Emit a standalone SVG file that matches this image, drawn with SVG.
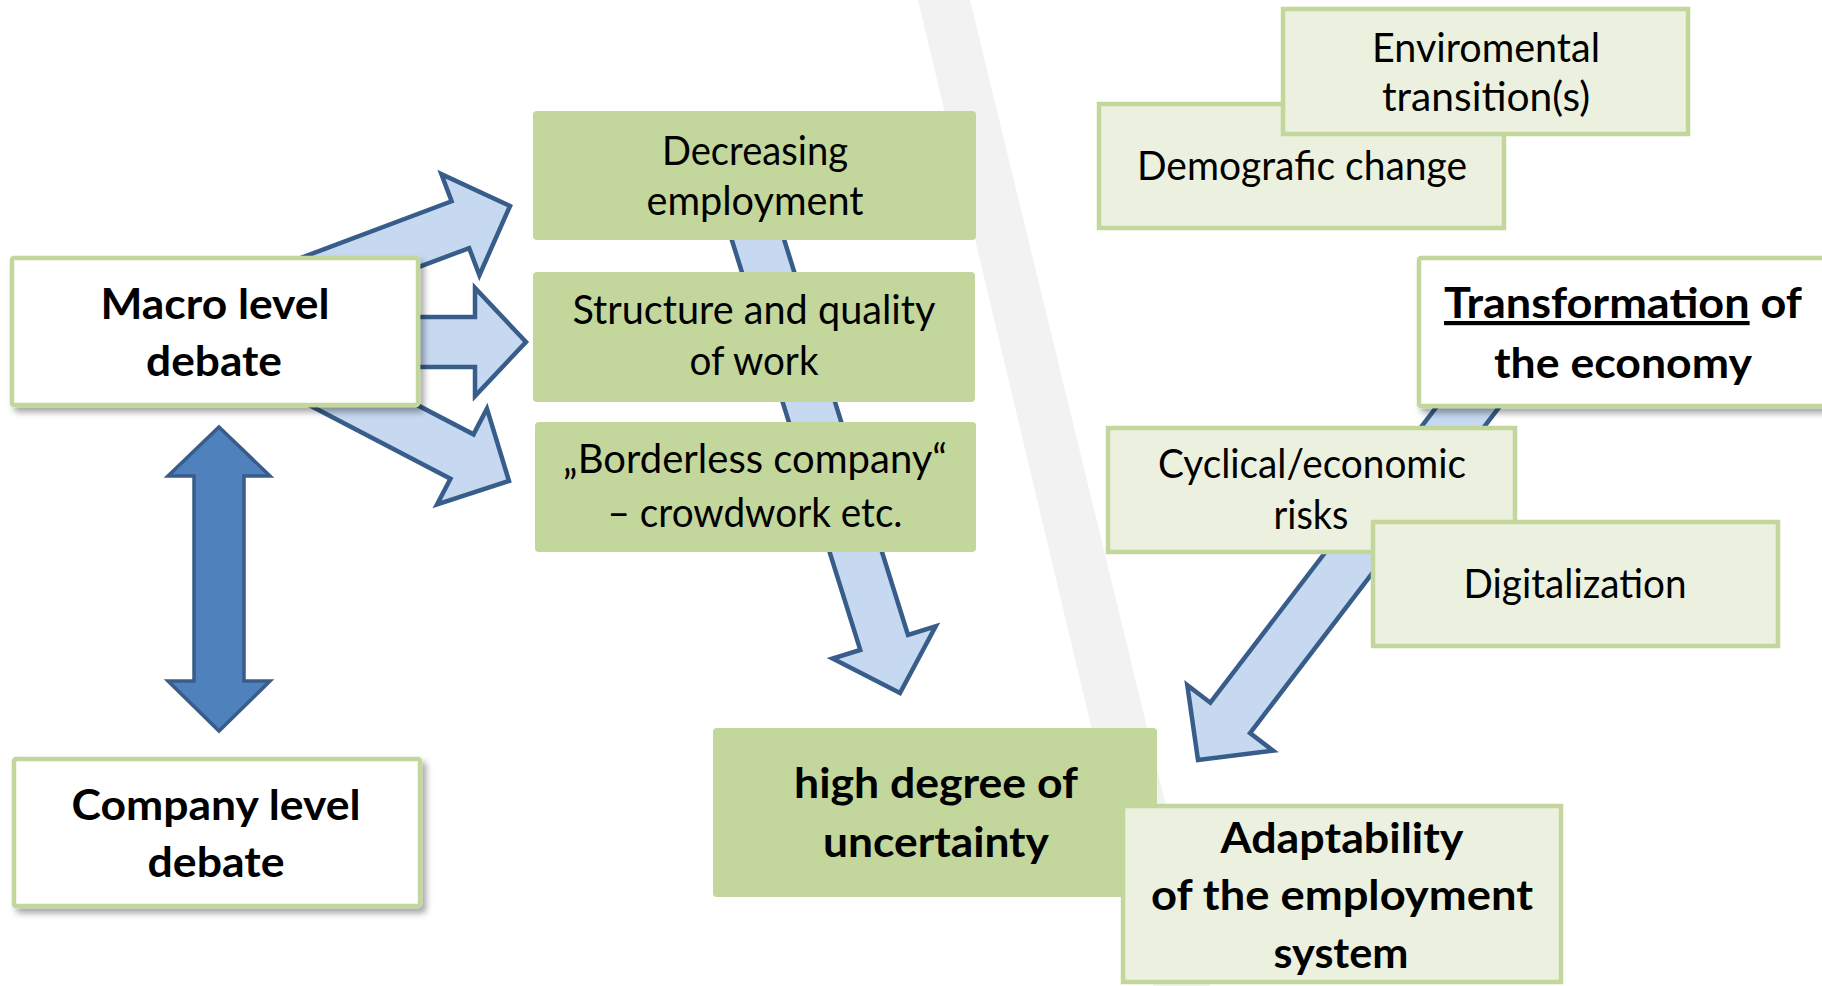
<svg xmlns="http://www.w3.org/2000/svg" width="1822" height="986" viewBox="0 0 1822 986">
<defs>
<filter id="sh" x="-10%" y="-10%" width="130%" height="140%">
<feDropShadow dx="4" dy="5" stdDeviation="3" flood-color="#000" flood-opacity="0.35"/>
</filter>
<polygon id="ar" points="-500,-25 -53,-25 -53,-54 0,0 -53,54 -53,25 -500,25"/>
<style>
.wb{fill:#fff;stroke:#c3d69b;stroke-width:4.5;filter:url(#sh)}
.lg{fill:#ebf1de;stroke:#c3d69b;stroke-width:4.5}
.gb{fill:#c3d69b}
.t{font-family:Lato,"Open Sans",sans-serif;fill:#000;text-anchor:middle}
.b{font-weight:700;font-size:42px}
.r{font-weight:400;font-size:40px}
.arr{fill:#c6d9f1;stroke:#385d8a;stroke-width:4.5;stroke-linejoin:miter}
.dbl{fill:#4f81bd;stroke:#385d8a;stroke-width:3.5}
</style>
</defs>
<rect width="1822" height="986" fill="#fff"/>
<polygon points="918,0 970,0 1210,986 1153,986" fill="#f2f2f2"/>
<g id="connectors">
<polygon class="arr" points="-260,-25 -53,-25 -53,-54 0,0 -53,54 -53,25 -260,25" transform="translate(510,206) rotate(-20.6)"/>
<polygon class="arr" points="-230,-25 -51,-25 -51,-54 0,0 -51,54 -51,25 -230,25" transform="translate(526,342)"/>
<polygon class="arr" points="-260,-25 -53,-25 -53,-54 0,0 -53,54 -53,25 -260,25" transform="translate(509,481) rotate(27.5)"/>
<use href="#ar" class="arr" transform="translate(900,693) rotate(72.6)"/>
<use href="#ar" class="arr" transform="translate(1198,760) rotate(127.4)"/>
<polygon class="dbl" points="219,427 270,476 244,476 244,681 270,681 219,731 168,681 194,681 194,476 168,476"/>
</g>
<g id="macro">
<rect class="wb" x="12" y="258" width="406" height="147" rx="2"/>
<text class="t b" x="215" y="319" textLength="229" lengthAdjust="spacingAndGlyphs">Macro level</text>
<text class="t b" x="214" y="376" textLength="136" lengthAdjust="spacingAndGlyphs">debate</text>
</g>
<g id="company">
<rect class="wb" x="14" y="759" width="406" height="147" rx="2"/>
<text class="t b" x="216" y="820" textLength="289" lengthAdjust="spacingAndGlyphs">Company level</text>
<text class="t b" x="216" y="877" textLength="137" lengthAdjust="spacingAndGlyphs">debate</text>
</g>
<g id="decreasing">
<rect class="gb" x="533" y="111" width="443" height="129" rx="4"/>
<text class="t r" x="755" y="165" textLength="186" lengthAdjust="spacingAndGlyphs">Decreasing</text>
<text class="t r" x="755" y="215" textLength="217" lengthAdjust="spacingAndGlyphs">employment</text>
</g>
<g id="structure">
<rect class="gb" x="533" y="272" width="442" height="130" rx="4"/>
<text class="t r" x="754" y="324" textLength="363" lengthAdjust="spacingAndGlyphs">Structure and quality</text>
<text class="t r" x="754" y="375" textLength="129" lengthAdjust="spacingAndGlyphs">of work</text>
</g>
<g id="borderless">
<rect class="gb" x="535" y="422" width="441" height="130" rx="4"/>
<text class="t r" x="755" y="473" textLength="384" lengthAdjust="spacingAndGlyphs">„Borderless company“</text>
<text class="t r" x="755" y="527" textLength="295" lengthAdjust="spacingAndGlyphs">– crowdwork etc.</text>
</g>
<g id="uncertainty">
<rect class="gb" x="713" y="728" width="444" height="169" rx="4"/>
<text class="t b" x="936" y="798" textLength="284" lengthAdjust="spacingAndGlyphs">high degree of</text>
<text class="t b" x="936" y="857" textLength="226" lengthAdjust="spacingAndGlyphs">uncertainty</text>
</g>
<g id="demografic">
<rect class="lg" x="1099" y="104" width="405" height="124"/>
<text class="t r" x="1302" y="180" textLength="330" lengthAdjust="spacingAndGlyphs">Demografic change</text>
</g>
<g id="enviromental">
<rect class="lg" x="1283" y="9" width="405" height="125"/>
<text class="t r" x="1486" y="62" textLength="228" lengthAdjust="spacingAndGlyphs">Enviromental</text>
<text class="t r" x="1486" y="111" textLength="208" lengthAdjust="spacingAndGlyphs">transition(s)</text>
</g>
<g id="transformation">
<rect class="wb" x="1419" y="258" width="520" height="148" rx="2"/>
<text class="t b" x="1444" y="318" style="text-anchor:start" textLength="358" lengthAdjust="spacingAndGlyphs"><tspan text-decoration="underline">Transformation</tspan> of</text>
<text class="t b" x="1623" y="378" textLength="258" lengthAdjust="spacingAndGlyphs">the economy</text>
</g>
<g id="cyclical">
<rect class="lg" x="1108" y="428" width="407" height="124"/>
<text class="t r" x="1312" y="478" textLength="308" lengthAdjust="spacingAndGlyphs">Cyclical/economic</text>
<text class="t r" x="1311" y="529" textLength="75" lengthAdjust="spacingAndGlyphs">risks</text>
</g>
<g id="digitalization">
<rect class="lg" x="1373" y="522" width="405" height="124"/>
<text class="t r" x="1575" y="598" textLength="223" lengthAdjust="spacingAndGlyphs">Digitalization</text>
</g>
<g id="adaptability">
<rect class="lg" x="1123" y="806" width="438" height="176"/>
<text class="t b" x="1342" y="853" textLength="243" lengthAdjust="spacingAndGlyphs">Adaptability</text>
<text class="t b" x="1342" y="910" textLength="382" lengthAdjust="spacingAndGlyphs">of the employment</text>
<text class="t b" x="1341" y="968" textLength="135" lengthAdjust="spacingAndGlyphs">system</text>
</g>
</svg>
